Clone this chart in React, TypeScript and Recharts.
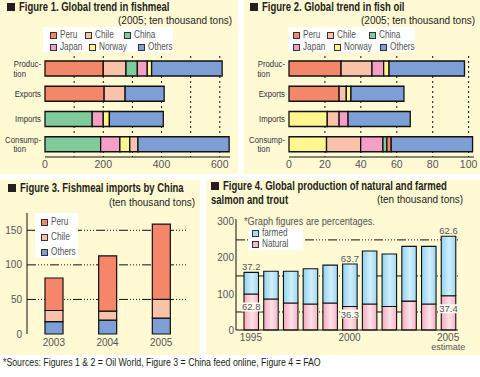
import React from 'react';
import { Bar, BarChart, CartesianGrid, Cell, LabelList, XAxis, YAxis } from 'recharts';

// Fig 1 & 2: row names and segments (country, value), in drawing order
const rowNames = ['Production', 'Exports', 'Imports', 'Consumption'];

const fishmealProduction: [string, number][] = [['Peru', 200], ['Chile', 78], ['China', 39], ['Japan', 34], ['Norway', 15], ['Others', 242]];
const fishmealExports: [string, number][] = [['Peru', 203], ['Chile', 72], ['Others', 134]];
const fishmealImports: [string, number][] = [['China', 162], ['Japan', 38], ['Norway', 21], ['Others', 185]];
const fishmealConsumption: [string, number][] = [['China', 191], ['Japan', 66], ['Norway', 34], ['Chile', 28], ['Others', 313]];

const fishoilProduction: [string, number][] = [['Peru', 29], ['Chile', 17.2], ['Japan', 6.5], ['Norway', 3], ['Others', 42]];
const fishoilExports: [string, number][] = [['Peru', 27.9], ['Chile', 4], ['Norway', 2.6], ['Others', 29.5]];
const fishoilImports: [string, number][] = [['Norway', 21.3], ['Chile', 6.6], ['Japan', 5], ['Others', 34.6]];
const fishoilConsumption: [string, number][] = [['Norway', 20.9], ['Chile', 19], ['Japan', 12.4], ['China', 2.2], ['Peru', 2.4], ['Others', 45.3]];

const fishmealTicks = [0, 200, 400, 600];
const fishmealGrid = [100, 200, 300, 400, 500, 600];
const fishoilTicks = [0, 20, 40, 60, 80, 100];
const fishoilGrid = [20, 40, 60, 80, 100];

// Fig 3
const chinaYears = ['2003', '2004', '2005'];
const chinaOthers = [18, 20, 23];
const chinaChile = [16, 13, 27];
const chinaPeru = [47, 80, 109];
const chinaTicks = [0, 50, 100, 150];

// Fig 4
const salmonYears = ['1995', '1996', '1997', '1998', '1999', '2000', '2001', '2002', '2003', '2004', '2005'];
const salmonNatural = [100, 86, 75, 72, 75, 65, 72, 65, 80, 72, 95];
const salmonFarmed = [60, 77, 88, 98, 105, 118, 147, 146, 152, 160, 165];
const farmedPct = [37.2, null, null, null, null, 63.7, null, null, null, null, 62.6];
const naturalPct = [62.8, null, null, null, null, 36.3, null, null, null, null, 37.4];
const salmonTicks = [0, 100, 200, 300];

const COLORS: Record<string, string> = {
  Peru: '#f4876a',
  Chile: '#f9c2a9',
  China: '#7fcb9b',
  Japan: '#f39fc6',
  Norway: '#fff68f',
  Others: '#7e9fd5',
};
const CREAM = '#fff9d4';
const INK = '#231f20';
const SANS = "'Liberation Sans', Arial, sans-serif";
const GRID_DASH = '9 2 1 2 1 2 1 2 1 2';

const rowLines: Record<string, string[]> = {
  Production: ['Produc-', 'tion'],
  Exports: ['Exports'],
  Imports: ['Imports'],
  Consumption: ['Consump-', 'tion'],
};

function buildRows(parts: [string, number][][]) {
  return rowNames.map((name, r) => {
    const row: any = { name };
    parts[r].forEach(([k, v], i) => {
      row['s' + i] = v;
      row['k' + i] = k;
    });
    return row;
  });
}

const fishmealRows = buildRows([fishmealProduction, fishmealExports, fishmealImports, fishmealConsumption]);
const fishoilRows = buildRows([fishoilProduction, fishoilExports, fishoilImports, fishoilConsumption]);

const chinaData = chinaYears.map((year, i) => ({ year, others: chinaOthers[i], chile: chinaChile[i], peru: chinaPeru[i] }));
const salmonData = salmonYears.map((year, i) => ({
  year,
  natural: salmonNatural[i],
  farmed: salmonFarmed[i],
  fp: farmedPct[i],
  np: naturalPct[i],
}));

// condensed html text
function Cond({ s, origin = 'left', children }: { s: number; origin?: string; children: React.ReactNode }) {
  return <span style={{ display: 'inline-block', transform: `scaleX(${s})`, transformOrigin: origin }}>{children}</span>;
}

function RowTick(props: any) {
  const { x, y, payload } = props;
  const lines = rowLines[payload.value] || [payload.value];
  const style = { fontFamily: SANS, fontSize: 9.5, fill: '#333' };
  const t = (tx: number, ty: number, s: string) => (
    <text transform={`translate(${tx},${ty}) scale(0.82,1)`} textAnchor="end" dominantBaseline="central" style={style}>
      {s}
    </text>
  );
  if (lines.length === 1) return t(x, y, lines[0]);
  return (
    <g>
      {t(x, y - 4.8, lines[0])}
      {t(x - 15, y + 4.8, lines[1])}
    </g>
  );
}

function StackedRows({ rows, max, ticks, grid }: { rows: any[]; max: number; ticks: number[]; grid: number[] }) {
  const nSeg = 6;
  return (
    <BarChart
      width={236}
      height={174}
      data={rows}
      layout="vertical"
      margin={{ top: 56, right: 6, bottom: 4, left: 0 }}
    >
      <CartesianGrid horizontal={false} verticalValues={grid} stroke="#111" strokeDasharray="2 3" />
      <XAxis
        type="number"
        domain={[0, max]}
        ticks={ticks}
        axisLine={{ stroke: '#111' }}
        tickLine={false}
        tickSize={2}
        tickMargin={2}
        height={13}
        tick={{ fontSize: 10.5, fill: '#555', fontFamily: SANS }}
      />
      <YAxis
        type="category"
        dataKey="name"
        width={45}
        axisLine={false}
        tickLine={false}
        tickSize={0}
        tickMargin={4}
        tick={<RowTick />}
      />
      {Array.from({ length: nSeg }, (_, i) => (
        <Bar key={i} dataKey={'s' + i} stackId="a" barSize={15} stroke="#111" strokeWidth={1.3} isAnimationActive={false}>
          {rows.map((row, j) => (
            <Cell key={j} fill={COLORS[row['k' + i]] || 'none'} />
          ))}
        </Bar>
      ))}
    </BarChart>
  );
}

function Square({ color, w = 7, h = 7 }: { color: string; w?: number; h?: number }) {
  return <span style={{ display: 'inline-block', width: w - 2, height: h - 2, background: color, border: '1px solid #333', flex: 'none' }} />;
}

function LegendItem({ x, y, color, label }: { x: number; y: number; color: string; label: string }) {
  return (
    <div style={{ position: 'absolute', left: x, top: y - 6, height: 12, display: 'flex', alignItems: 'center', whiteSpace: 'nowrap' }}>
      <Square color={color} />
      <span style={{ marginLeft: 3, fontSize: 10, color: '#555', fontFamily: SANS, lineHeight: '12px' }}>
        <Cond s={0.82}>{label}</Cond>
      </span>
    </div>
  );
}

function Title({ x, y, text, square = true }: { x: number; y: number; text: string; square?: boolean }) {
  return (
    <div
      style={{
        position: 'absolute',
        left: x,
        top: y,
        height: 12,
        display: 'flex',
        alignItems: 'center',
        whiteSpace: 'nowrap',
        fontFamily: SANS,
        fontWeight: 'bold',
        fontSize: 12.5,
        lineHeight: '12px',
        color: INK,
      }}
    >
      {square && <span style={{ display: 'inline-block', width: 8, height: 8, background: INK, marginRight: 4, flex: 'none' }} />}
      <Cond s={0.76}>{text}</Cond>
    </div>
  );
}

function Sub({ right, y, text }: { right: number; y: number; text: string }) {
  return (
    <div style={{ position: 'absolute', right, top: y, height: 14, lineHeight: '14px', whiteSpace: 'nowrap', fontFamily: SANS, fontSize: 11.5, color: INK }}>
      <Cond s={0.87} origin="right">{text}</Cond>
    </div>
  );
}

function Panel({ x, y, w, h, children }: { x: number; y: number; w: number; h: number; children: React.ReactNode }) {
  return <div style={{ position: 'absolute', left: x, top: y, width: w, height: h, background: CREAM }}>{children}</div>;
}

function FarmedLabel(props: any) {
  const { x, y, width, value } = props;
  if (value == null) return null;
  return (
    <text x={x + width / 2} y={y - 6} textAnchor="middle" dominantBaseline="central" style={{ fontFamily: SANS, fontSize: 9.5, fill: '#555' }}>
      {value}
    </text>
  );
}

function NaturalLabel(props: any) {
  const { x, y, width, value } = props;
  if (value == null) return null;
  const cy = Math.min(y + 13, 134);
  const cx = x + width / 2;
  return (
    <g>
      <rect x={cx - 10} y={cy - 4.5} width={20} height={9} fill="#fffdf4" />
      <text x={cx} y={cy} textAnchor="middle" dominantBaseline="central" style={{ fontFamily: SANS, fontSize: 9.5, fill: '#555' }}>
        {value}
      </text>
    </g>
  );
}

function YearTick(props: any) {
  const { x, y, payload } = props;
  const v = payload.value;
  if (v !== '1995' && v !== '2000' && v !== '2005') return null;
  return (
    <g>
      <text x={x} y={y + 7} textAnchor="middle" dominantBaseline="central" style={{ fontFamily: SANS, fontSize: 10, fill: '#555' }}>
        {v}
      </text>
      {v === '2005' && (
        <text x={x} y={y + 16.5} textAnchor="middle" dominantBaseline="central" style={{ fontFamily: SANS, fontSize: 9, fill: '#555' }}>
          estimate
        </text>
      )}
    </g>
  );
}

export default function App() {
  return (
    <div style={{ position: 'absolute', left: 0, top: 0, width: 480, height: 377, background: '#fff', overflow: 'hidden', fontFamily: SANS }}>
      {/* Figure 1 */}
      <Panel x={0} y={0} w={238} h={174}>
        <div style={{ position: 'absolute', left: 0, top: 0 }}>
          <StackedRows rows={fishmealRows} max={635} ticks={fishmealTicks} grid={fishmealGrid} />
        </div>
        <Title x={7} y={1} text="Figure 1. Global trend in fishmeal" />
        <Sub right={6} y={13} text="(2005; ten thousand tons)" />
        <div style={{ position: 'absolute', left: 43, top: 27, width: 130, height: 25, background: '#fff' }} />
        <LegendItem x={50} y={35} color={COLORS.Peru} label="Peru" />
        <LegendItem x={85} y={35} color={COLORS.Chile} label="Chile" />
        <LegendItem x={124} y={35} color={COLORS.China} label="China" />
        <LegendItem x={50} y={47} color={COLORS.Japan} label="Japan" />
        <LegendItem x={89} y={47} color={COLORS.Norway} label="Norway" />
        <LegendItem x={138} y={47} color={COLORS.Others} label="Others" />
      </Panel>

      {/* Figure 2 */}
      <Panel x={244} y={0} w={236} h={174}>
        <div style={{ position: 'absolute', left: 0, top: 0 }}>
          <StackedRows rows={fishoilRows} max={103} ticks={fishoilTicks} grid={fishoilGrid} />
        </div>
        <Title x={6} y={1} text="Figure 2. Global trend in fish oil" />
        <Sub right={5} y={13} text="(2005; ten thousand tons)" />
        <div style={{ position: 'absolute', left: 44, top: 27, width: 127, height: 25, background: '#fff' }} />
        <LegendItem x={49} y={35} color={COLORS.Peru} label="Peru" />
        <LegendItem x={83} y={35} color={COLORS.Chile} label="Chile" />
        <LegendItem x={125} y={35} color={COLORS.China} label="China" />
        <LegendItem x={49} y={47} color={COLORS.Japan} label="Japan" />
        <LegendItem x={90} y={47} color={COLORS.Norway} label="Norway" />
        <LegendItem x={136} y={47} color={COLORS.Others} label="Others" />
      </Panel>

      {/* Figure 3 */}
      <Panel x={0} y={180} w={200} h={175}>
        <div style={{ position: 'absolute', left: 0, top: 0 }}>
          <BarChart width={200} height={175} data={chinaData} margin={{ top: 33, right: 12, bottom: 5, left: 0 }}>
            <CartesianGrid vertical={false} horizontalValues={[50, 100, 150]} stroke="#111" strokeDasharray={GRID_DASH} />
            <XAxis dataKey="year" axisLine={false} tickLine={false} tickSize={0} tickMargin={5} height={16} tick={{ fontSize: 10, fill: '#555', fontFamily: SANS }} />
            <YAxis
              type="number"
              domain={[0, 175]}
              ticks={chinaTicks}
              width={27}
              axisLine={{ stroke: '#111' }}
              tickLine={false}
              tickSize={0}
              tickMargin={5}
              tick={{ fontSize: 10, fill: '#555', fontFamily: SANS }}
            />
            <Bar dataKey="others" stackId="c" barSize={18} fill={COLORS.Others} stroke="#111" strokeWidth={1.2} isAnimationActive={false} />
            <Bar dataKey="chile" stackId="c" barSize={18} fill={COLORS.Chile} stroke="#111" strokeWidth={1.2} isAnimationActive={false} />
            <Bar dataKey="peru" stackId="c" barSize={18} fill={COLORS.Peru} stroke="#111" strokeWidth={1.2} isAnimationActive={false} />
          </BarChart>
        </div>
        <Title x={8} y={2} text="Figure 3. Fishmeal imports by China" />
        <Sub right={5} y={15} text="(ten thousand tons)" />
        <div style={{ position: 'absolute', left: 35, top: 33, width: 43, height: 45, background: '#fff' }} />
        <LegendItem x={41} y={42} color={COLORS.Peru} label="Peru" />
        <LegendItem x={41} y={57} color={COLORS.Chile} label="Chile" />
        <LegendItem x={41} y={72} color={COLORS.Others} label="Others" />
      </Panel>

      {/* Figure 4 */}
      <Panel x={206} y={180} w={274} h={175}>
        <div style={{ position: 'absolute', left: 0, top: 0 }}>
          <BarChart width={274} height={175} data={salmonData} margin={{ top: 39, right: 22, bottom: 5, left: 0 }}>
            <defs>
              <linearGradient id="farmGrad" x1="0" y1="0" x2="1" y2="0">
                <stop offset="0" stopColor="#8fd3f2" />
                <stop offset="0.55" stopColor="#d2effb" />
                <stop offset="1" stopColor="#9cd8f3" />
              </linearGradient>
              <linearGradient id="natGrad" x1="0" y1="0" x2="1" y2="0">
                <stop offset="0" stopColor="#f5aabd" />
                <stop offset="0.55" stopColor="#fde2e9" />
                <stop offset="1" stopColor="#f6b3c4" />
              </linearGradient>
            </defs>
            <CartesianGrid vertical={false} horizontalValues={[50, 100, 150, 200, 250]} stroke="#111" strokeDasharray={GRID_DASH} />
            <XAxis
              dataKey="year"
              interval={0}
              padding={{ left: 5, right: 0 }}
              axisLine={{ stroke: '#111' }}
              tickLine={false}
              tickSize={0}
              tickMargin={0}
              height={20}
              tick={<YearTick />}
            />
            <YAxis
              type="number"
              domain={[0, 308]}
              ticks={salmonTicks}
              width={30}
              axisLine={{ stroke: '#111' }}
              tickLine={false}
              tickSize={0}
              tickMargin={2}
              tick={{ fontSize: 10, fill: '#555', fontFamily: SANS }}
            />
            <Bar dataKey="natural" stackId="s" barSize={14.5} fill="url(#natGrad)" stroke="#111" strokeWidth={1.1} isAnimationActive={false}>
              <LabelList dataKey="np" content={<NaturalLabel />} />
            </Bar>
            <Bar dataKey="farmed" stackId="s" barSize={14.5} fill="url(#farmGrad)" stroke="#111" strokeWidth={1.1} isAnimationActive={false}>
              <LabelList dataKey="fp" content={<FarmedLabel />} />
            </Bar>
          </BarChart>
        </div>
        <Title x={5} y={0} text="Figure 4. Global production of natural and farmed" />
        <Title x={5} y={14} text="salmon and trout" square={false} />
        <Sub right={17} y={12} text="(ten thousand tons)" />
        <div style={{ position: 'absolute', left: 38, top: 36, height: 12, lineHeight: '12px', fontFamily: SANS, fontSize: 10, color: '#555', whiteSpace: 'nowrap' }}>
          <Cond s={0.92}>*Graph figures are percentages.</Cond>
        </div>
        <div style={{ position: 'absolute', left: 42, top: 47, width: 55, height: 23, background: '#fff' }} />
        <LegendItem x={46} y={53} color="#a9dff5" label="farmed" />
        <LegendItem x={46} y={64} color="#f7b9c9" label="Natural" />
      </Panel>

      <div style={{ position: 'absolute', left: 3, top: 356, height: 13, lineHeight: '13px', fontFamily: SANS, fontSize: 10, color: INK, whiteSpace: 'nowrap' }}>
        <Cond s={0.875}>*Sources: Figures 1 &amp; 2 = Oil World, Figure 3 = China feed online, Figure 4 = FAO</Cond>
      </div>
    </div>
  );
}
